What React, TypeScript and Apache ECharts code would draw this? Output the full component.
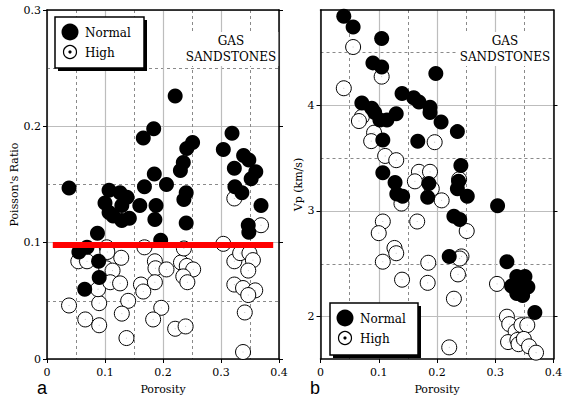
import React, { useEffect, useRef } from "react";
import * as echarts from "echarts";

// ---------- data ----------
const porosityRange = [0, 0.4];
const ratioRange = [0, 0.3];
const vpRange = [1.6, 4.9];
const vpMajorTicks = [2, 3, 4];
const vpMinorTicks = [2.5, 3.5, 4.5];
const redLineLevel = 0.098;
const redLineSpan = [0.01, 0.39];

// Panel a: Poisson's ratio vs porosity
const ratioNormal: number[][] = [
  [0.038, 0.147], [0.221, 0.226], [0.166, 0.19], [0.184, 0.198], [0.319, 0.194],
  [0.304, 0.18], [0.251, 0.186], [0.241, 0.181], [0.235, 0.169], [0.23, 0.162],
  [0.185, 0.159], [0.206, 0.15], [0.168, 0.148], [0.107, 0.145], [0.126, 0.143],
  [0.138, 0.139], [0.339, 0.175], [0.348, 0.171], [0.323, 0.164], [0.36, 0.161],
  [0.352, 0.155], [0.324, 0.148], [0.336, 0.143], [0.24, 0.143], [0.236, 0.137],
  [0.369, 0.132], [0.1, 0.134], [0.107, 0.126], [0.114, 0.123], [0.129, 0.132],
  [0.129, 0.119], [0.142, 0.121], [0.16, 0.132], [0.188, 0.132], [0.186, 0.12],
  [0.087, 0.108], [0.196, 0.102], [0.24, 0.117], [0.347, 0.115], [0.348, 0.109],
  [0.055, 0.092], [0.069, 0.096], [0.089, 0.084], [0.09, 0.07], [0.065, 0.06],
];
const ratioHigh: number[][] = [
  [0.038, 0.046], [0.066, 0.034], [0.09, 0.029], [0.09, 0.048], [0.088, 0.06],
  [0.054, 0.084], [0.069, 0.084], [0.102, 0.078], [0.113, 0.076], [0.109, 0.066],
  [0.126, 0.065], [0.128, 0.087], [0.103, 0.096], [0.104, 0.092], [0.14, 0.05],
  [0.129, 0.039], [0.137, 0.018], [0.168, 0.096], [0.162, 0.064], [0.166, 0.058],
  [0.186, 0.084], [0.187, 0.078], [0.206, 0.077], [0.186, 0.066], [0.197, 0.044],
  [0.183, 0.034], [0.221, 0.026], [0.239, 0.028], [0.231, 0.083], [0.241, 0.08],
  [0.252, 0.077], [0.235, 0.071], [0.242, 0.066], [0.236, 0.095], [0.304, 0.099],
  [0.323, 0.084], [0.333, 0.091], [0.349, 0.091], [0.355, 0.085], [0.347, 0.076],
  [0.323, 0.064], [0.338, 0.061], [0.359, 0.059], [0.347, 0.055], [0.341, 0.04],
  [0.338, 0.006], [0.369, 0.115], [0.323, 0.138],
];

// Panel b: Vp vs porosity
const vpNormal: number[][] = [
  [0.04, 4.84], [0.056, 4.74], [0.105, 4.63], [0.09, 4.4], [0.105, 4.36],
  [0.198, 4.3], [0.14, 4.11], [0.16, 4.07], [0.169, 4.03], [0.188, 3.98],
  [0.188, 3.93], [0.207, 3.84], [0.071, 4.02], [0.088, 3.97], [0.093, 3.93],
  [0.102, 3.86], [0.114, 3.86], [0.13, 3.92], [0.107, 3.67], [0.167, 3.66],
  [0.235, 3.75], [0.241, 3.43], [0.237, 3.28], [0.235, 3.21], [0.252, 3.14],
  [0.107, 3.36], [0.128, 3.27], [0.131, 3.16], [0.141, 3.14], [0.186, 3.26],
  [0.184, 3.13], [0.304, 3.05], [0.229, 2.95], [0.239, 2.92], [0.221, 2.57],
  [0.32, 2.52], [0.337, 2.38], [0.351, 2.38], [0.328, 2.29], [0.342, 2.29],
  [0.356, 2.28], [0.337, 2.22], [0.347, 2.2], [0.34, 2.33], [0.368, 2.04],
];
const vpHigh: number[][] = [
  [0.056, 4.55], [0.04, 4.16], [0.105, 4.27], [0.071, 3.89], [0.066, 3.85],
  [0.092, 3.74], [0.087, 3.66], [0.111, 3.52], [0.13, 3.48], [0.196, 3.65],
  [0.169, 3.37], [0.188, 3.37], [0.162, 3.28], [0.191, 3.21], [0.208, 3.1],
  [0.238, 3.3], [0.139, 3.07], [0.107, 2.9], [0.1, 2.79], [0.166, 2.9],
  [0.251, 2.81], [0.127, 2.65], [0.13, 2.6], [0.107, 2.52], [0.185, 2.51],
  [0.242, 2.57], [0.239, 2.55], [0.236, 2.4], [0.14, 2.35], [0.184, 2.32],
  [0.229, 2.17], [0.303, 2.31], [0.221, 1.71], [0.32, 2.0], [0.324, 1.93],
  [0.335, 1.86], [0.345, 1.92], [0.355, 1.92], [0.322, 1.76], [0.338, 1.78],
  [0.34, 1.74], [0.349, 1.79], [0.358, 1.72], [0.37, 1.66],
];

const legendLabels = ["Normal", "High"];
const panelTitle = "GAS\nSANDSTONES";
const panelLetters = ["a", "b"];
const xName = "Porosity";
const yNames = ["Poisson's Ratio", "Vp (km/s)"];

// ---------- styling ----------
const SERIF = '"DejaVu Serif", "Liberation Serif", serif';
const MAJOR = { color: "#bdbdbd", width: 1.2 };
const MINOR = { color: "#8a8a8a", width: 1, type: [3, 3] as number[] };
const labelStyle = { fontFamily: SERIF, fontSize: 11, color: "#000" };

function xMain(gridIndex: number) {
  return {
    type: "value",
    gridIndex,
    position: "bottom",
    min: porosityRange[0],
    max: porosityRange[1],
    interval: 0.1,
    name: xName,
    nameLocation: "middle",
    nameGap: 25,
    nameTextStyle: { ...labelStyle },
    axisLine: { show: true, onZero: false, lineStyle: { color: "#000", width: 1.5 } },
    axisTick: { show: true, length: 4, lineStyle: { color: "#000" } },
    axisLabel: { ...labelStyle, margin: 8 },
    splitLine: { show: true, lineStyle: MAJOR },
    minorTick: { show: false, splitNumber: 2 },
    minorSplitLine: { show: true, lineStyle: MINOR },
  };
}
function xTop(gridIndex: number) {
  return {
    type: "value",
    gridIndex,
    position: "top",
    min: porosityRange[0],
    max: porosityRange[1],
    interval: 0.1,
    axisLine: { show: true, onZero: false, lineStyle: { color: "#000", width: 1.5 } },
    axisTick: { show: false },
    axisLabel: { show: false },
    splitLine: { show: false },
  };
}

function buildOption() {
  const legend = (bx: number, by: number, w: number, h: number) => {
    const cx = bx + 15;
    return [
      { type: "rect", z: 100, shape: { x: bx + 3, y: by + 3, width: w, height: h }, style: { fill: "#000" } },
      { type: "rect", z: 101, shape: { x: bx, y: by, width: w, height: h }, style: { fill: "#fff", stroke: "#000", lineWidth: 1.5 } },
      { type: "circle", z: 102, shape: { cx, cy: by + 15, r: 8.5 }, style: { fill: "#000" } },
      { type: "text", z: 102, x: cx + 15, y: by + 16, style: { text: legendLabels[0], font: `12px ${SERIF}`, fill: "#000", verticalAlign: "middle", align: "left" } },
      { type: "circle", z: 102, shape: { cx, cy: by + 35, r: 6.5 }, style: { fill: "#fff", stroke: "#000", lineWidth: 1.2 } },
      { type: "circle", z: 103, shape: { cx, cy: by + 35, r: 1.6 }, style: { fill: "#000" } },
      { type: "text", z: 102, x: cx + 15, y: by + 36, style: { text: legendLabels[1], font: `12px ${SERIF}`, fill: "#000", verticalAlign: "middle", align: "left" } },
    ];
  };
  const title = (x: number) => ({
    type: "text",
    z: 100,
    x,
    y: 32,
    style: {
      text: panelTitle,
      font: `12px ${SERIF}`,
      fill: "#000",
      align: "center",
      lineHeight: 16,
      backgroundColor: "#fff",
      padding: [1, 2],
    },
  });
  const letter = (x: number, t: string) => ({
    type: "text",
    z: 100,
    x,
    y: 388,
    style: { text: t, font: '18px "Liberation Sans", sans-serif', fill: "#000", align: "center", verticalAlign: "middle" },
  });

  const openSeries = (name: string, data: number[][], xi: number, yi: number) => [
    {
      name,
      type: "scatter",
      xAxisIndex: xi,
      yAxisIndex: yi,
      data,
      symbol: "circle",
      symbolSize: 15,
      itemStyle: { color: "#fff", borderColor: "#000", borderWidth: 1, opacity: 1 },
      z: 2,
      silent: true,
    },
    {
      name: name + " centre",
      type: "scatter",
      xAxisIndex: xi,
      yAxisIndex: yi,
      data,
      symbol: "circle",
      symbolSize: 1,
      itemStyle: { color: "#aaa" },
      z: 3,
      silent: true,
    },
  ];
  const filledSeries = (name: string, data: number[][], xi: number, yi: number) => ({
    name,
    type: "scatter",
    xAxisIndex: xi,
    yAxisIndex: yi,
    data,
    symbol: "circle",
    symbolSize: 15,
    itemStyle: { color: "#000", opacity: 1 },
    z: 4,
    silent: true,
  });

  return {
    animation: false,
    backgroundColor: "#fff",
    grid: [
      { left: 47, top: 10, width: 232, height: 349 },
      { left: 320.5, top: 10, width: 233, height: 349 },
    ],
    xAxis: [xMain(0), xTop(0), xMain(1), xTop(1)],
    yAxis: [
      {
        type: "value",
        gridIndex: 0,
        position: "left",
        min: ratioRange[0],
        max: ratioRange[1],
        interval: 0.1,
        name: yNames[0],
        nameLocation: "middle",
        nameGap: 24,
        nameTextStyle: { ...labelStyle },
        axisLine: { show: true, onZero: false, lineStyle: { color: "#000", width: 1.5 } },
        axisTick: { show: true, length: 4, lineStyle: { color: "#000" } },
        axisLabel: { ...labelStyle, margin: 6 },
        splitLine: { show: true, lineStyle: MAJOR },
        minorTick: { show: false, splitNumber: 2 },
        minorSplitLine: { show: true, lineStyle: MINOR },
      },
      {
        type: "value",
        gridIndex: 0,
        position: "right",
        min: ratioRange[0],
        max: ratioRange[1],
        interval: 0.1,
        axisLine: { show: true, onZero: false, lineStyle: { color: "#000", width: 1.5 } },
        axisTick: { show: true, length: 4, lineStyle: { color: "#000" } },
        axisLabel: { show: false },
        splitLine: { show: false },
      },
      {
        type: "value",
        gridIndex: 1,
        position: "left",
        min: vpRange[0],
        max: vpRange[1],
        name: yNames[1],
        nameLocation: "middle",
        nameGap: 14,
        nameTextStyle: { ...labelStyle },
        axisLine: { show: true, onZero: false, lineStyle: { color: "#000", width: 1.5 } },
        axisTick: { show: true, length: 4, customValues: vpMajorTicks, lineStyle: { color: "#000" } },
        axisLabel: { ...labelStyle, margin: 6, customValues: vpMajorTicks },
        splitLine: { show: true, lineStyle: MAJOR },
      },
      {
        type: "value",
        gridIndex: 1,
        position: "right",
        min: vpRange[0],
        max: vpRange[1],
        axisLine: { show: true, onZero: false, lineStyle: { color: "#000", width: 1.5 } },
        axisTick: { show: true, length: 4, customValues: vpMajorTicks, lineStyle: { color: "#000" } },
        axisLabel: { show: false },
        splitLine: { show: false },
      },
      {
        type: "value",
        gridIndex: 1,
        position: "right",
        min: vpRange[0],
        max: vpRange[1],
        axisLine: { show: false },
        axisTick: { show: false, customValues: vpMinorTicks },
        axisLabel: { show: false, customValues: vpMinorTicks },
        splitLine: { show: true, lineStyle: MINOR },
      },
    ],
    series: [
      ...openSeries(legendLabels[1], ratioHigh, 0, 0),
      filledSeries(legendLabels[0], ratioNormal, 0, 0),
      {
        name: "threshold",
        type: "line",
        xAxisIndex: 0,
        yAxisIndex: 0,
        data: redLineSpan.map((x) => [x, redLineLevel]),
        symbol: "none",
        lineStyle: { color: "#ff0000", width: 6 },
        z: 10,
        silent: true,
      },
      ...openSeries(legendLabels[1], vpHigh, 2, 2),
      filledSeries(legendLabels[0], vpNormal, 2, 2),
    ],
    graphic: [
      ...legend(55, 17, 89, 51),
      ...legend(330, 303, 88, 52),
      title(231),
      title(505),
      letter(42, panelLetters[0]),
      letter(315, panelLetters[1]),
    ],
  };
}

export default function App() {
  const ref = useRef<HTMLDivElement>(null);
  useEffect(() => {
    document.body.style.margin = "0";
    const chart = echarts.init(ref.current!, null, { renderer: "svg" });
    chart.setOption(buildOption() as any);
    return () => chart.dispose();
  }, []);
  return <div ref={ref} style={{ width: 570, height: 403 }} />;
}
